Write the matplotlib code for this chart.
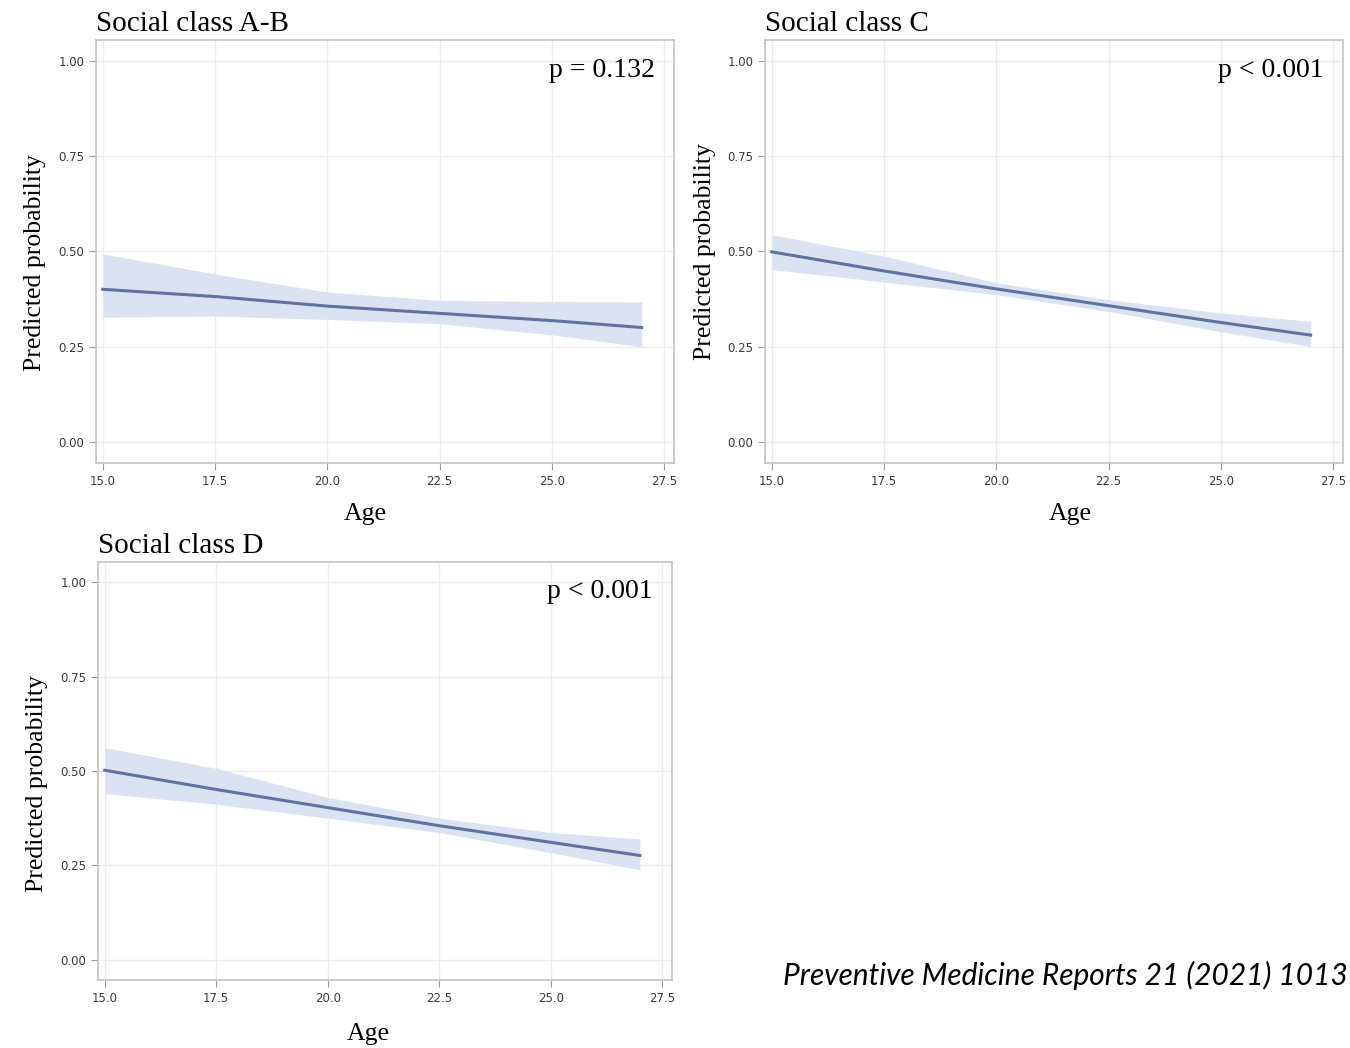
import numpy as np
import matplotlib
matplotlib.use("Agg")
import matplotlib.pyplot as plt

# Data (age vs predicted probability with 95% band)
age = [15, 17.5, 20, 22.5, 25, 27]

ab_pred = [0.401, 0.382, 0.357, 0.338, 0.319, 0.301]
ab_upper = [0.494, 0.441, 0.394, 0.372, 0.369, 0.368]
ab_lower = [0.328, 0.331, 0.322, 0.311, 0.282, 0.250]

c_pred = [0.499, 0.449, 0.402, 0.358, 0.314, 0.281]
c_upper = [0.544, 0.488, 0.418, 0.374, 0.339, 0.317]
c_lower = [0.453, 0.420, 0.387, 0.343, 0.290, 0.251]

d_pred = [0.502, 0.451, 0.403, 0.355, 0.311, 0.276]
d_upper = [0.562, 0.507, 0.430, 0.375, 0.337, 0.320]
d_lower = [0.440, 0.412, 0.375, 0.337, 0.284, 0.238]

titles = ["Social class A-B", "Social class C", "Social class D"]
pvals = ["p = 0.132", "p < 0.001", "p < 0.001"]
xticks = [15.0, 17.5, 20.0, 22.5, 25.0, 27.5]
yticks = [0.00, 0.25, 0.50, 0.75, 1.00]

line_color = "#60739f"
band_color = "#d9e3f2"
serif = "Liberation Serif"

fig = plt.figure(figsize=(13.5, 10.48), dpi=100)

# axes rectangles in figure fractions
rects = [
    [96 / 1350, 1 - 463 / 1048, 578 / 1350, 423 / 1048],
    [765 / 1350, 1 - 463 / 1048, 578 / 1350, 423 / 1048],
    [98 / 1350, 1 - 980 / 1048, 574 / 1350, 418 / 1048],
]
ylab_pos = [(-0.0865, 0.473), (-0.085, 0.50), (-0.087, 0.471)]
xlab_pos = [(0.465, -0.095), (0.528, -0.095), (0.47, -0.103)]

series = [
    (ab_pred, ab_lower, ab_upper),
    (c_pred, c_lower, c_upper),
    (d_pred, d_lower, d_upper),
]

for i, (pred, lo, hi) in enumerate(series):
    ax = fig.add_axes(rects[i])
    ax.fill_between(age, lo, hi, color=band_color, lw=0, zorder=2)
    ax.plot(age, pred, color=line_color, lw=2.2, zorder=3)

    ax.set_xlim(14.85, 27.72)
    ax.set_ylim(-0.054, 1.054)
    ax.set_xticks(xticks)
    ax.set_yticks(yticks)
    ax.set_xticklabels([f"{t:.1f}" for t in xticks])
    ax.set_yticklabels([f"{t:.2f}" for t in yticks])
    ax.tick_params(labelsize=8.5, labelcolor="#3a3a3a", color="#9a9a9a",
                   length=5, width=0.8)
    ax.grid(True, color="#ececec", lw=1.0, zorder=0)
    for s in ax.spines.values():
        s.set_color("#c4c4c4")
        s.set_linewidth(1.2)

    ax.set_ylabel("Predicted probability", family=serif, fontsize=18.5)
    ax.yaxis.set_label_coords(*ylab_pos[i])
    ax.set_xlabel("Age", family=serif, fontsize=18.5)
    ax.xaxis.set_label_coords(*xlab_pos[i])

    ax.text(0.0, 1.038, titles[i], transform=ax.transAxes, family=serif,
            fontsize=21, ha="left", va="center")
    ax.text(0.967, 0.929, pvals[i], transform=ax.transAxes, family=serif,
            fontsize=20, ha="right", va="center")

fig.text(783 / 1350, 1 - 975 / 1048, "Preventive Medicine Reports 21 (2021) 1013",
         family="Lato", style="italic", fontsize=21.5, ha="left", va="center")

fig.savefig("out.png", dpi=100)
